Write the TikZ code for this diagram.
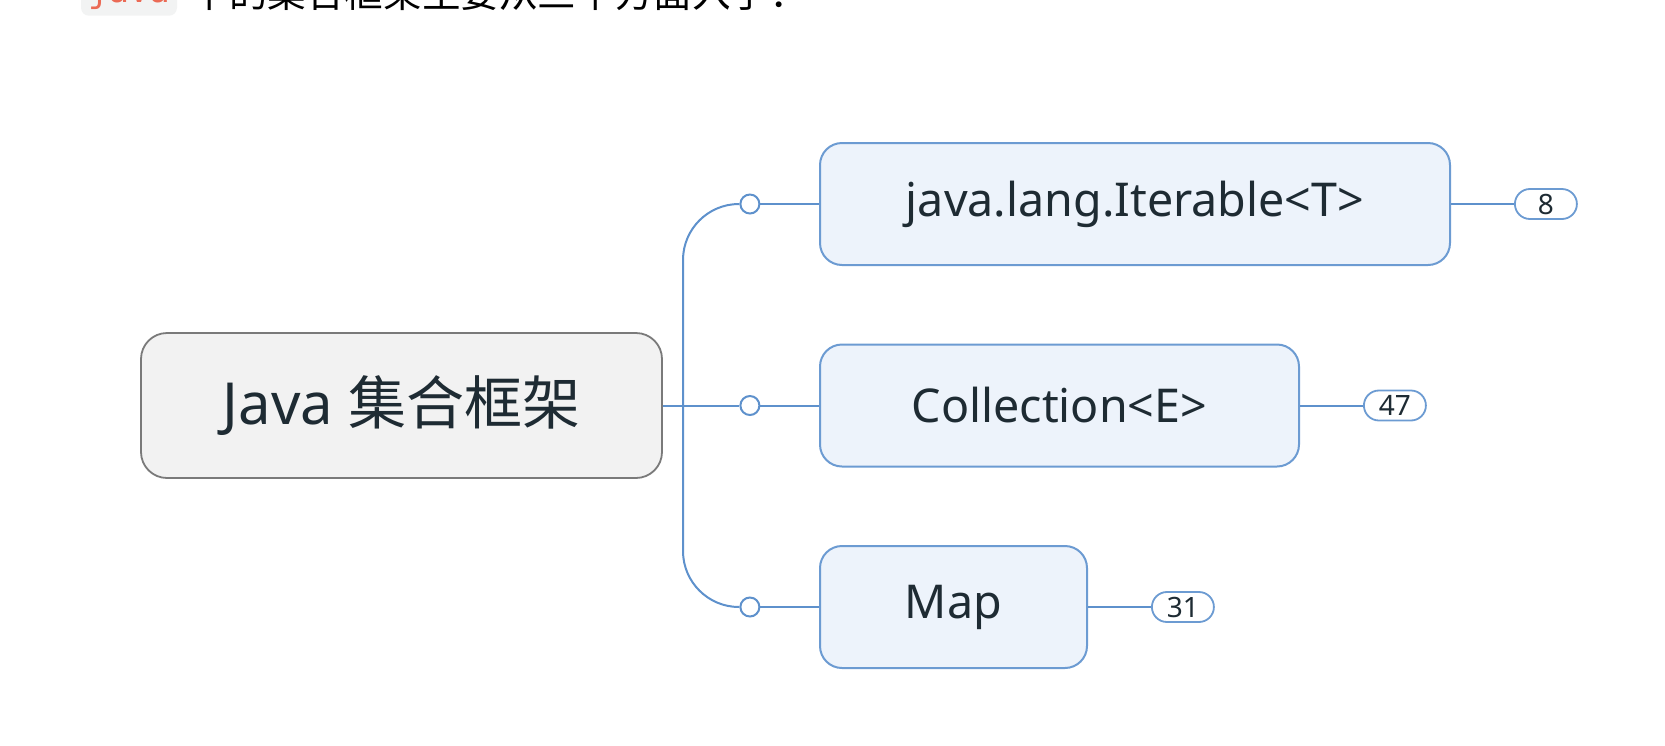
\documentclass[tikz,border=0pt]{standalone}
\usepackage{fontspec}
\setmainfont{Noto Sans}
\setmonofont{DejaVu Sans Mono}
\newfontfamily\cjk{Noto Sans CJK SC}
\usetikzlibrary{positioning}

\definecolor{branch}{HTML}{5E91CC}
\definecolor{topicline}{HTML}{6C9BD2}
\definecolor{topicfill}{HTML}{EDF3FB}
\definecolor{rootline}{HTML}{7A7A7A}
\definecolor{rootfill}{HTML}{F2F2F2}
\definecolor{ink}{HTML}{1E2B33}
\definecolor{codered}{HTML}{EB6A55}
\definecolor{codebg}{HTML}{F2F3F3}

\begin{document}
\begin{tikzpicture}[x=0.5pt, y=-0.5pt,
  central/.style={draw=rootline, fill=rootfill, line width=0.9pt, rounded corners=13pt,
    minimum width=260.5pt, minimum height=72.5pt, text=ink, font=\fontsize{29}{34}\selectfont},
  topic/.style={draw=topicline, fill=topicfill, line width=1pt, rounded corners=11pt,
    minimum height=61pt, text=ink, font=\fontsize{23.3}{27}\selectfont},
  joint/.style={circle, draw=branch, fill=white, line width=1pt, minimum size=9.5pt, inner sep=0pt},
  count/.style={draw=topicline, fill=white, line width=0.9pt, rounded corners=7.5pt,
    minimum width=31pt, minimum height=15pt, inner sep=0pt, text=ink, font=\fontsize{14}{16}\selectfont},
  branch line/.style={draw=branch, line width=1pt}
]
  \useasboundingbox (0,0) rectangle (1665,745);
  \clip (0,0) rectangle (1665,745);

  % cut-off line of text above the map
  \node[fill=codebg, rounded corners=4pt, text=codered, font=\ttfamily\fontsize{17}{20}\selectfont,
    minimum width=48pt, minimum height=21pt, anchor=base] (code word) at (129,2) {java};
  \node[anchor=base west, inner sep=0pt, font=\cjk\fontsize{19.3}{21}\selectfont] (intro text) at (190,7) {中的集合框架主要从三个方面入手：};

  \node[central] (root) at (401.5,405.5) {Java {\cjk 集合框架}};

  \node[topic, minimum width=315pt] (iterable) at (1135,204) {java.lang.Iterable<T>};
  \node[topic, minimum width=239.5pt] (collection) at (1059.5,405.5) {Collection<E>};
  \node[topic, minimum width=133.5pt] (map) at (953.5,607) {Map};

  \node[joint, left=29.3pt of iterable] (joint iterable) {};
  \node[joint, left=29.3pt of collection] (joint collection) {};
  \node[joint, left=29.3pt of map] (joint map) {};

  \node[count, right=31.5pt of iterable] (count iterable) {8};
  \node[count, right=31.5pt of collection] (count collection) {47};
  \node[count, right=31.5pt of map] (count map) {31};

  \coordinate (trunk) at (683,405.5);

  \draw[branch line] (root.east) -- (joint collection);
  \draw[branch line, rounded corners=28pt] (trunk) |- (joint iterable);
  \draw[branch line, rounded corners=28pt] (trunk) |- (joint map);

  \draw[branch line] (joint iterable) -- (iterable);
  \draw[branch line] (joint collection) -- (collection);
  \draw[branch line] (joint map) -- (map);

  \draw[branch line] (iterable) -- (count iterable);
  \draw[branch line] (collection) -- (count collection);
  \draw[branch line] (map) -- (count map);
\end{tikzpicture}
\end{document}
